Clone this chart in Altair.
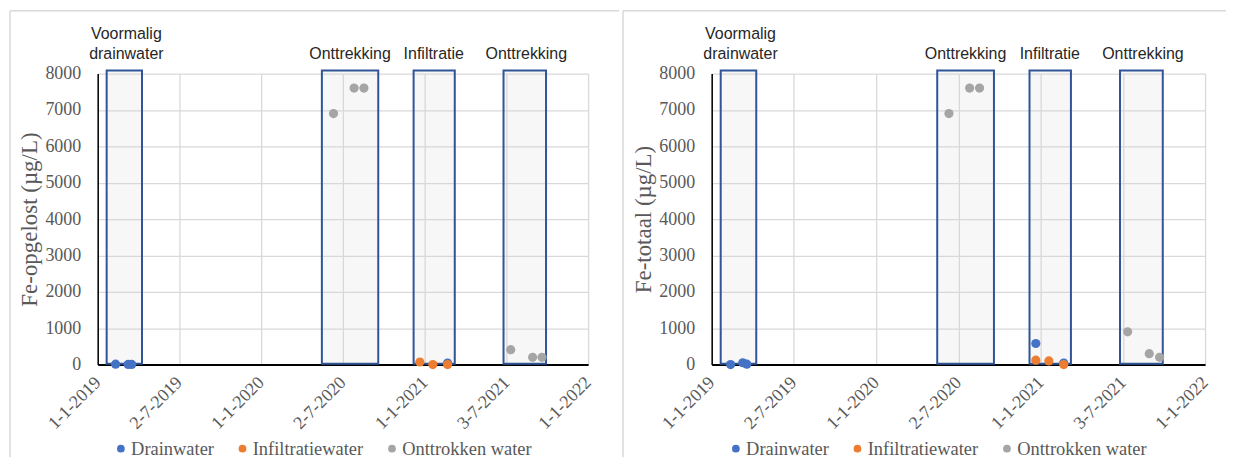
import altair as alt
import pandas as pd

# ---------------- data ----------------
series_names = ["Drainwater", "Infiltratiewater", "Onttrokken water"]
series_colors = ["#4472C4", "#ED7D31", "#A5A5A5"]

# Fe-opgelost (left panel)
opg_drain_dates = ["2019-02-10", "2019-03-10", "2019-03-18", "2021-02-21"]
opg_drain_vals = [10, 5, 5, 40]
opg_infil_dates = ["2020-12-21", "2021-01-19", "2021-02-21"]
opg_infil_vals = [70, 0, 0]
opg_ontt_dates = ["2020-06-11", "2020-07-27", "2020-08-18", "2021-07-12", "2021-08-30", "2021-09-20"]
opg_ontt_vals = [6900, 7600, 7600, 410, 200, 200]

# Fe-totaal (right panel)
tot_drain_dates = ["2019-02-12", "2019-03-11", "2019-03-20", "2020-12-21", "2021-02-21"]
tot_drain_vals = [0, 50, 10, 580, 40]
tot_infil_dates = ["2020-12-21", "2021-01-19", "2021-02-21"]
tot_infil_vals = [120, 100, 0]
tot_ontt_dates = ["2020-06-11", "2020-07-27", "2020-08-18", "2021-07-13", "2021-08-30", "2021-09-22"]
tot_ontt_vals = [6900, 7600, 7600, 900, 300, 200]

# period boxes
box_start = ["2019-01-21", "2020-05-16", "2020-12-07", "2021-06-26"]
box_end = ["2019-04-10", "2020-09-19", "2021-03-09", "2021-09-29"]
box_low = [20, 20, 20, 20]
box_high = [8080, 8080, 8080, 8080]

# period labels (two lines)
period_label_dates = ["2019-03-06", "2020-07-18", "2021-01-21", "2021-08-16"]
period_labels_line1 = ["Voormalig", "", "", ""]
period_labels_line2 = ["drainwater", "Onttrekking", "Infiltratie", "Onttrekking"]

# axes
x_tick_dates = [(2019, 1, 1), (2019, 7, 2), (2020, 1, 1), (2020, 7, 2),
                (2021, 1, 1), (2021, 7, 3), (2022, 1, 1)]
y_ticks = [0, 1000, 2000, 3000, 4000, 5000, 6000, 7000, 8000]

SERIF = "Liberation Serif"
SANS = "Liberation Sans"
GREY_TXT = "#595959"
GRID = "#d9d9d9"
FRAME = "#d9d9d9"


def points_df(dd, dv, idates, ivals, odates, ovals):
    rows = []
    for d, v in zip(dd, dv):
        rows.append({"date": d, "value": v, "serie": series_names[0]})
    for d, v in zip(idates, ivals):
        rows.append({"date": d, "value": v, "serie": series_names[1]})
    for d, v in zip(odates, ovals):
        rows.append({"date": d, "value": v, "serie": series_names[2]})
    df = pd.DataFrame(rows)
    df["order"] = df["serie"].map({n: i for i, n in enumerate(series_names)})
    return df


def make_panel(ytitle, pts, width, legend_x, left_frame_x, top_right_x):
    xscale = alt.Scale(domain=[alt.DateTime(year=2019, month=1, date=1),
                               alt.DateTime(year=2022, month=1, date=1)])
    yscale = alt.Scale(domain=[0, 8000], nice=False)
    xaxis = alt.Axis(
        values=[alt.DateTime(year=y, month=m, date=d) for (y, m, d) in x_tick_dates],
        format="%-d-%-m-%Y", labelAngle=-45, labelAlign="right", labelBaseline="middle",
        labelPadding=15, ticks=False, grid=True, gridColor=GRID, gridWidth=1.3,
        domainColor="black", domainWidth=2, title=None, labelFont=SERIF,
        labelFontSize=18, labelColor=GREY_TXT, labelOverlap=False, labelFlush=False,
    )
    yaxis = alt.Axis(
        values=y_ticks, format="d", grid=True, gridColor=GRID, gridWidth=1.3,
        domainColor="black", domainWidth=1.5, ticks=False, labelFont=SERIF,
        labelFontSize=18, labelColor=GREY_TXT, labelPadding=17, labelOverlap=False,
        title=ytitle, titleFont=SERIF, titleFontSize=23, titleColor=GREY_TXT,
        titleFontWeight="normal", titlePadding=3,
    )

    boxes = alt.Chart(pd.DataFrame({"start": box_start, "end": box_end,
                                    "low": box_low, "high": box_high})).mark_rect(
        fill="#d9d9d9", fillOpacity=0.2, stroke="#2F5597", strokeWidth=2
    ).encode(
        x=alt.X("start:T", scale=xscale, axis=xaxis),
        x2="end:T",
        y=alt.Y("low:Q", scale=yscale, axis=yaxis),
        y2="high:Q",
    )

    points = alt.Chart(pts).mark_circle(size=85, opacity=1).encode(
        x=alt.X("date:T", scale=xscale, axis=xaxis),
        y=alt.Y("value:Q", scale=yscale, axis=yaxis),
        order=alt.Order("order:Q"),
        color=alt.Color(
            "serie:N",
            scale=alt.Scale(domain=series_names, range=series_colors),
            legend=alt.Legend(
                orient="none", legendX=legend_x, legendY=367, direction="horizontal",
                columns=3, title=None, labelFont=SERIF, labelFontSize=18.5,
                labelColor=GREY_TXT, symbolType="circle", symbolSize=60,
                columnPadding=19, labelOffset=1, symbolStrokeWidth=0,
            ),
        ),
    )

    lab_df = pd.DataFrame({"date": period_label_dates,
                           "line1": period_labels_line1,
                           "line2": period_labels_line2})
    text_kw = dict(font=SANS, fontSize=16, color="#262626", baseline="alphabetic",
                   align="center")
    labels2 = alt.Chart(lab_df).mark_text(**text_kw).encode(
        x=alt.X("date:T", scale=xscale, axis=xaxis), y=alt.value(-15), text="line2:N"
    )
    labels1 = alt.Chart(lab_df).mark_text(**text_kw).encode(
        x=alt.X("date:T", scale=xscale, axis=xaxis), y=alt.value(-35), text="line1:N"
    )

    one = pd.DataFrame({"k": [0]})
    left_line = alt.Chart(one).mark_rule(color=FRAME, strokeWidth=1.5).encode(
        x=alt.value(left_frame_x), y=alt.value(-63), y2=alt.value(385)
    )
    top_line = alt.Chart(one).mark_rule(color=FRAME, strokeWidth=1.5).encode(
        x=alt.value(left_frame_x), x2=alt.value(top_right_x), y=alt.value(-63)
    )

    return alt.layer(left_line, top_line, boxes, points, labels1, labels2).properties(
        width=width, height=292
    )


left = make_panel(
    "Fe-opgelost  (µg/L)",
    points_df(opg_drain_dates, opg_drain_vals, opg_infil_dates, opg_infil_vals,
              opg_ontt_dates, opg_ontt_vals),
    width=492, legend_x=14, left_frame_x=-88, top_right_x=523,
)
right = make_panel(
    "Fe-totaal  (µg/L)",
    points_df(tot_drain_dates, tot_drain_vals, tot_infil_dates, tot_infil_vals,
              tot_ontt_dates, tot_ontt_vals),
    width=495, legend_x=15, left_frame_x=-89, top_right_x=516,
)

chart = alt.hconcat(left, right, spacing=0).resolve_scale(
    color="independent", x="independent", y="independent"
).resolve_legend(color="independent").properties(
    padding={"left": 0, "top": 0, "right": 0, "bottom": 0},
    background="white",
).configure_view(
    stroke="transparent"
).configure_axis(
    labelFont=SERIF, titleFont=SERIF, labelColor=GREY_TXT, titleColor=GREY_TXT
).configure_legend(
    labelFont=SERIF, labelFontSize=18.5, labelColor=GREY_TXT
)

chart.save("out.html", embed_options={"renderer": "svg", "actions": False})
